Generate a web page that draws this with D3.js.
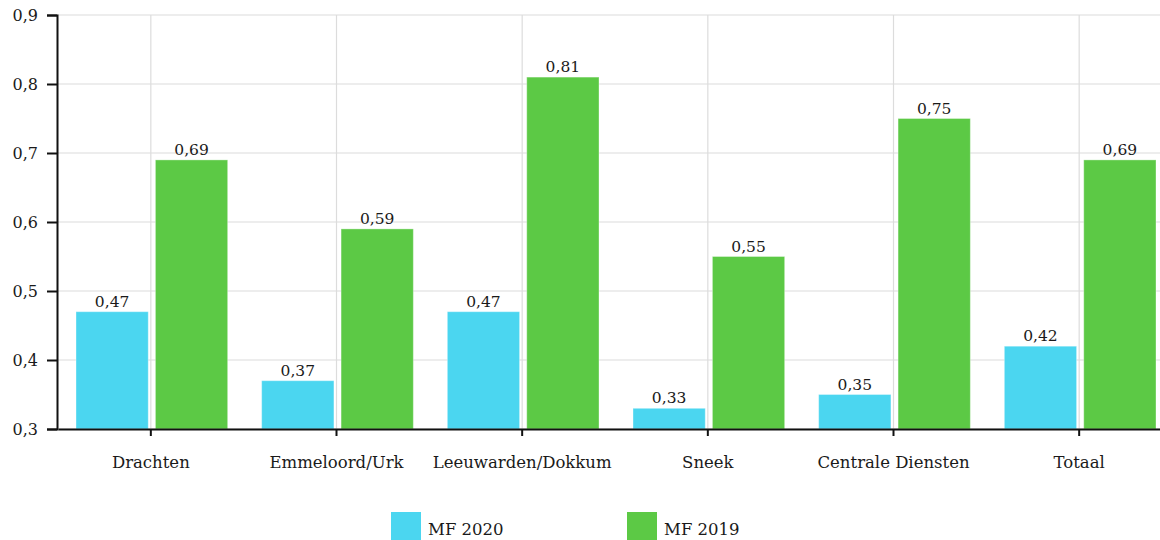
<!DOCTYPE html>
<html>
<head>
<meta charset="utf-8">
<script src="https://cdn.jsdelivr.net/npm/d3@7"></script>
<style>
  body { margin: 0; background: #fff; }
  svg text { font-family: "DejaVu Serif", serif; fill: #1a1a1a; }
</style>
</head>
<body>
<div id="chart"></div>
<script>
const categories = ["Drachten", "Emmeloord/Urk", "Leeuwarden/Dokkum", "Sneek", "Centrale Diensten", "Totaal"];
const seriesNames = ["MF 2020", "MF 2019"];
const mf2020 = [0.47, 0.37, 0.47, 0.33, 0.35, 0.42];
const mf2019 = [0.69, 0.59, 0.81, 0.55, 0.75, 0.69];
const yTicks = [0.3, 0.4, 0.5, 0.6, 0.7, 0.8, 0.9];
const colors = ["#4bd6f0", "#5cc945"];

const width = 1160, height = 540;
const margin = { top: 15, right: -11, bottom: 111, left: 57 };
const innerW = width - margin.left - margin.right;
const innerH = height - margin.top - margin.bottom;

const svg = d3.select("#chart").append("svg")
  .attr("width", width)
  .attr("height", height);

const g = svg.append("g")
  .attr("transform", `translate(${margin.left},${margin.top})`);

const x0 = d3.scaleBand().domain(categories).range([1, innerW + 1]).paddingInner(0).paddingOuter(0);
const x1 = d3.scaleBand().domain(seriesNames).range([18, x0.bandwidth() - 16]).paddingInner(0.09);
const y = d3.scaleLinear().domain([0.3, 0.9]).range([innerH, 0]);

const fmt = v => d3.format(".1f")(v).replace(".", ",");
const fmt2 = v => d3.format(".2f")(v).replace(".", ",");

// grid
g.append("g").selectAll("line.h").data(yTicks).enter().append("line")
  .attr("x1", 0).attr("x2", innerW)
  .attr("y1", d => y(d)).attr("y2", d => y(d))
  .attr("stroke", "#dcdcdc").attr("stroke-width", 1.2);
g.append("g").selectAll("line.v").data(categories).enter().append("line")
  .attr("x1", d => x0(d) + x0.bandwidth() / 2).attr("x2", d => x0(d) + x0.bandwidth() / 2)
  .attr("y1", 0).attr("y2", innerH)
  .attr("stroke", "#dcdcdc").attr("stroke-width", 1.2);

// bars
const rows = categories.map((c, i) => ({ cat: c, values: [mf2020[i], mf2019[i]] }));
const grp = g.selectAll(".cat").data(rows).enter().append("g")
  .attr("transform", d => `translate(${x0(d.cat)},0)`);
grp.selectAll("rect").data(d => d.values.map((v, j) => ({ key: seriesNames[j], v, j })))
  .enter().append("rect")
  .attr("x", d => x1(d.key))
  .attr("y", d => y(d.v))
  .attr("width", x1.bandwidth())
  .attr("height", d => innerH - y(d.v))
  .attr("fill", d => colors[d.j])
  .attr("stroke", "rgba(255,255,255,0.35)")
  .attr("stroke-width", 1);
grp.selectAll("text").data(d => d.values.map((v, j) => ({ key: seriesNames[j], v, j })))
  .enter().append("text")
  .attr("x", d => x1(d.key) + x1.bandwidth() / 2)
  .attr("y", d => y(d.v) - 5)
  .attr("text-anchor", "middle")
  .style("font-size", "15.5px")
  .text(d => fmt2(d.v));

// axes
const yAxis = g.append("g")
  .call(d3.axisLeft(y).tickValues(yTicks).tickSize(10).tickPadding(9).tickFormat(fmt));
yAxis.select(".domain").attr("stroke", "#111").attr("stroke-width", 2);
yAxis.selectAll(".tick line").attr("stroke", "#111").attr("stroke-width", 2);
yAxis.selectAll("text").style("font-size", "16px").style("font-family", "DejaVu Serif");

const xAxis = g.append("g")
  .attr("transform", `translate(0,${innerH})`)
  .call(d3.axisBottom(x0).tickSize(7).tickPadding(20).tickSizeOuter(0));
xAxis.select(".domain").attr("stroke", "#111").attr("stroke-width", 2);
xAxis.selectAll(".tick line").attr("stroke", "#111").attr("stroke-width", 2);
xAxis.selectAll("text").style("font-size", "16.5px").style("font-family", "DejaVu Serif");

// legend
const legendX = [391, 627];
const legend = svg.selectAll(".legend").data(seriesNames).enter().append("g")
  .attr("transform", (d, i) => `translate(${legendX[i]},512)`);
legend.append("rect").attr("width", 30).attr("height", 30).attr("fill", (d, i) => colors[i]);
legend.append("text").attr("x", 37).attr("y", 23).style("font-size", "16.5px").text(d => d);
</script>
</body>
</html>
